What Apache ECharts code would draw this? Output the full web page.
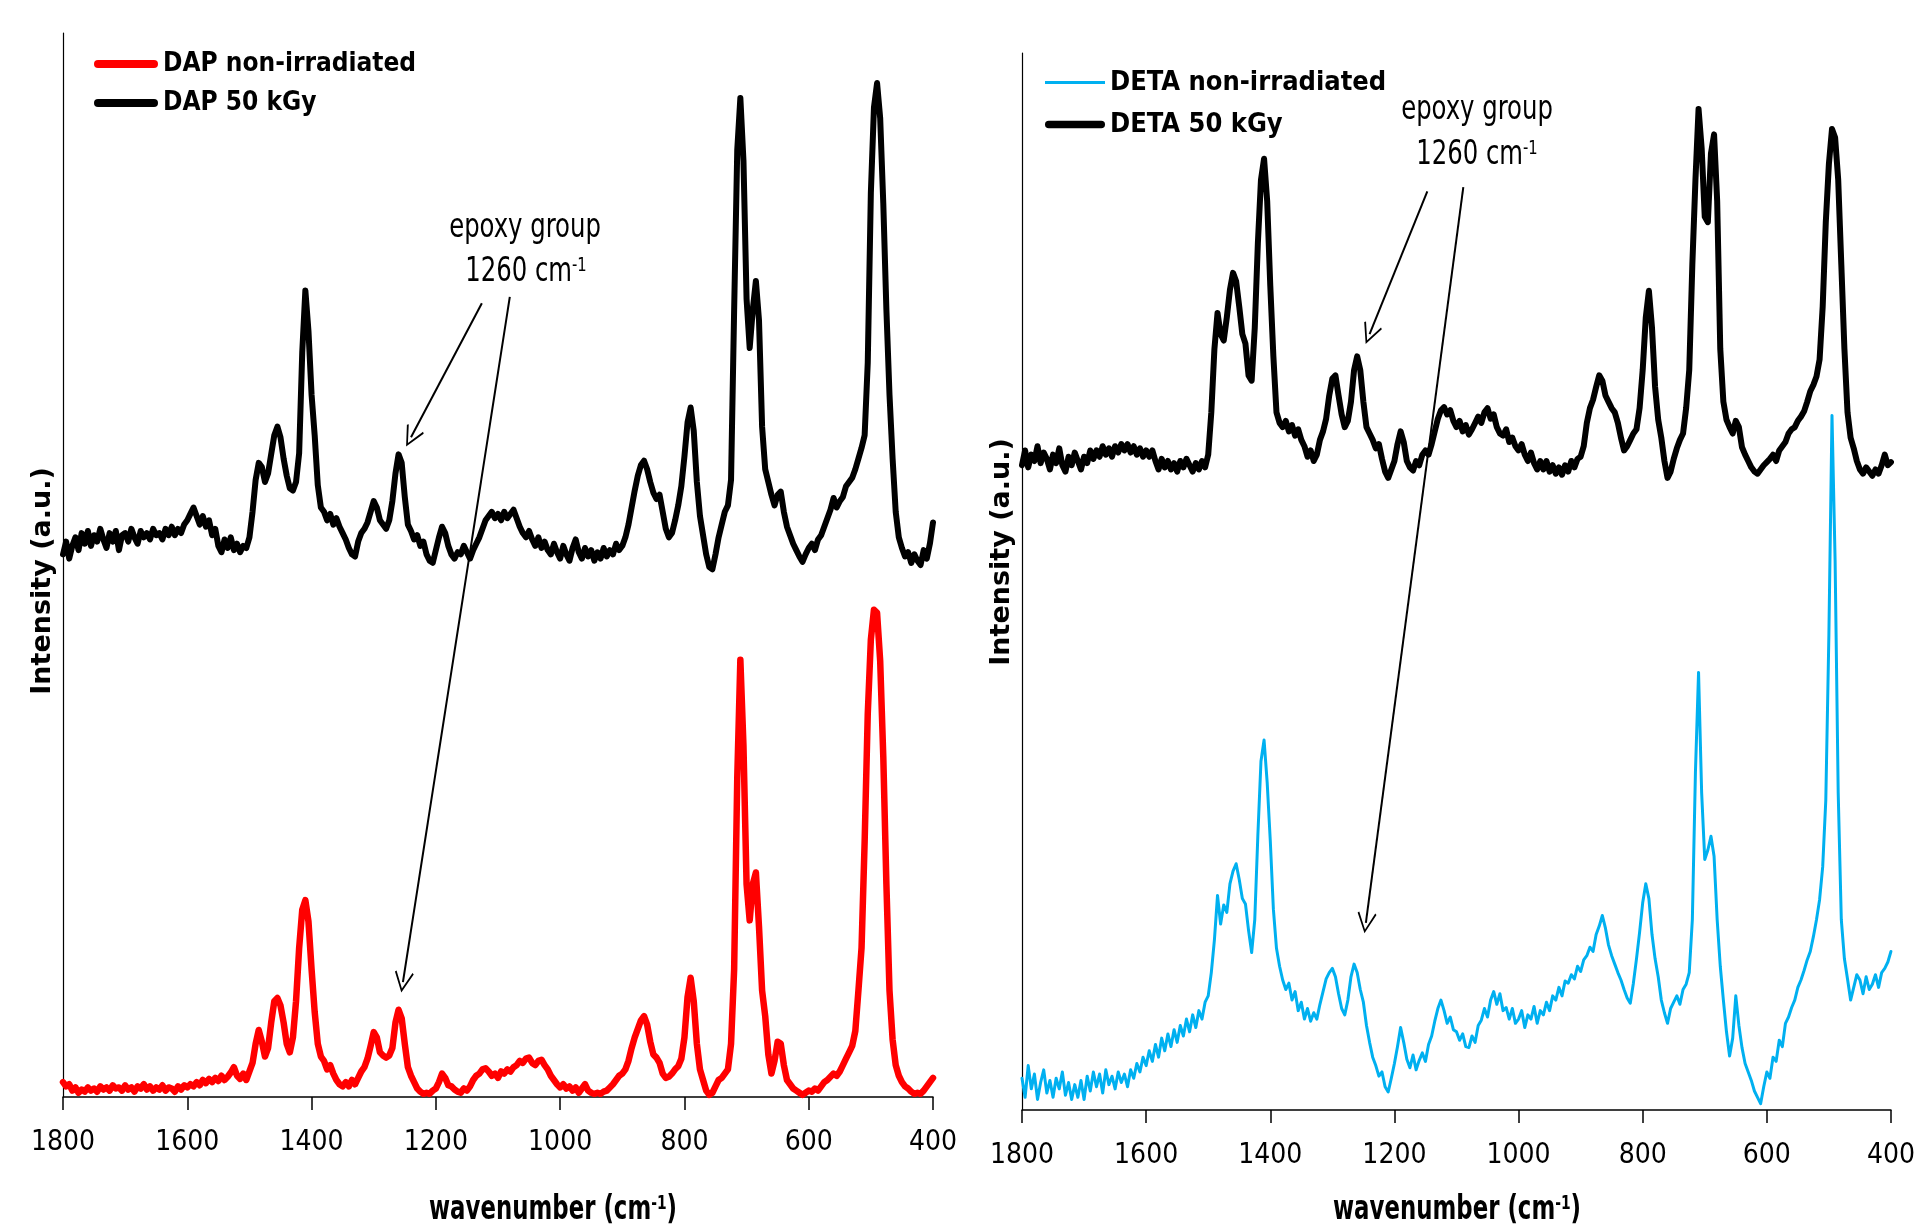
<!DOCTYPE html>
<html>
<head>
<meta charset="utf-8">
<script src="https://cdn.jsdelivr.net/npm/echarts@6/dist/echarts.min.js"></script>
<style>
html,body{margin:0;padding:0;background:#fff;}
#chart{width:1918px;height:1227px;}
</style>
</head>
<body>
<div id="chart"></div>
<script>
// ---- data ----
const wavenumbers = [
1800,1795,1790,1785,1780,1775,1770,1765,1760,1755,1750,1745,1740,1735,1730,1725,1720,1715,1710,1705,
1700,1695,1690,1685,1680,1675,1670,1665,1660,1655,1650,1645,1640,1635,1630,1625,1620,1615,1610,1605,
1600,1595,1590,1585,1580,1575,1570,1565,1560,1555,1550,1545,1540,1535,1530,1525,1520,1515,1510,1505,
1500,1495,1490,1485,1480,1475,1470,1465,1460,1455,1450,1445,1440,1435,1430,1425,1420,1415,1410,1405,
1400,1395,1390,1385,1380,1375,1370,1365,1360,1355,1350,1345,1340,1335,1330,1325,1320,1315,1310,1305,
1300,1295,1290,1285,1280,1275,1270,1265,1260,1255,1250,1245,1240,1235,1230,1225,1220,1215,1210,1205,
1200,1195,1190,1185,1180,1175,1170,1165,1160,1155,1150,1145,1140,1135,1130,1125,1120,1115,1110,1105,
1100,1095,1090,1085,1080,1075,1070,1065,1060,1055,1050,1045,1040,1035,1030,1025,1020,1015,1010,1005,
1000,995,990,985,980,975,970,965,960,955,950,945,940,935,930,925,920,915,910,905,
900,895,890,885,880,875,870,865,860,855,850,845,840,835,830,825,820,815,810,805,
800,795,790,785,780,775,770,765,760,755,750,745,740,735,730,725,720,715,710,705,
700,695,690,685,680,675,670,665,660,655,650,645,640,635,630,625,620,615,610,605,
600,595,590,585,580,575,570,565,560,555,550,545,540,535,530,525,520,515,510,505,
500,495,490,485,480,475,470,465,460,455,450,445,440,435,430,425,420,415,410,405,
400];

const dapNonIrradiated = [
1.4,1.0,1.2,0.6,0.9,0.4,0.7,0.5,0.9,0.6,0.8,0.5,1.0,0.7,0.9,0.6,1.1,0.8,0.9,0.6,
1.1,0.7,0.9,0.5,1.0,0.8,1.2,0.7,1.0,0.6,0.9,0.7,1.1,0.6,0.9,0.8,0.5,1.0,0.7,1.1,
0.9,1.2,1.0,1.4,1.1,1.6,1.3,1.7,1.4,1.8,1.5,2.0,1.6,1.9,2.3,2.8,2.0,1.7,2.2,1.6,
2.4,3.2,5.0,6.3,5.2,3.8,4.6,7.0,9.0,9.3,8.6,7.0,5.0,4.2,5.6,9.0,14.0,17.6,18.5,16.5,
12.0,8.0,5.0,3.8,3.4,2.6,3.0,2.2,1.6,1.2,1.0,1.4,1.0,1.6,1.2,1.8,2.4,2.8,3.6,4.8,
6.1,5.6,4.2,3.9,3.7,3.9,4.6,7.0,8.2,7.4,5.0,2.8,2.0,1.4,0.8,0.5,0.3,0.4,0.3,0.6,
0.8,1.4,2.2,1.8,1.1,1.0,0.7,0.5,0.4,0.8,0.6,1.0,1.6,2.0,2.2,2.6,2.7,2.4,2.0,2.2,
1.8,2.4,2.2,2.6,2.4,2.8,3.0,3.4,3.2,3.6,3.7,3.2,3.0,3.4,3.5,3.0,2.6,2.0,1.6,1.2,
0.9,1.2,0.8,1.0,0.6,0.9,0.4,0.8,1.2,0.6,0.4,0.3,0.4,0.3,0.5,0.6,0.9,1.2,1.6,2.0,
2.2,2.6,3.4,4.6,5.6,6.4,7.2,7.6,6.8,5.2,4.0,3.7,3.2,2.2,1.8,1.9,2.2,2.6,2.9,3.6,
5.6,9.4,11.2,9.0,5.0,2.6,1.6,0.6,0.2,0.4,1.0,1.6,1.8,2.2,2.6,5.0,12.0,30.0,41.1,33.0,
20.0,16.6,20.0,21.1,16.0,10.0,7.6,4.0,2.2,3.4,5.2,5.0,3.0,1.6,1.2,0.8,0.6,0.4,0.2,0.4,
0.6,0.5,0.8,0.6,1.0,1.4,1.6,1.9,2.2,2.0,2.4,3.0,3.6,4.2,4.8,6.2,10.0,14.0,24.0,36.0,
43.0,45.8,45.5,41.0,32.0,20.0,10.0,5.4,3.0,2.0,1.4,1.0,0.8,0.5,0.3,0.4,0.3,0.6,1.0,1.4,
1.8];

const dap50kGy = [
51.0,52.2,50.6,51.8,52.6,51.4,53.0,52.0,53.2,51.8,52.8,52.2,53.4,52.4,51.6,53.0,52.2,53.2,51.4,52.8,
53.0,52.2,53.4,52.6,52.0,53.2,52.6,53.0,52.4,53.4,52.8,53.0,52.4,53.4,52.8,53.6,52.8,53.4,53.0,53.8,
54.2,54.8,55.4,54.6,53.8,54.6,53.6,54.2,52.8,53.4,51.8,51.2,52.4,51.6,52.6,51.4,52.0,51.2,51.8,51.6,
52.6,55.0,58.0,59.6,59.2,57.8,58.6,60.4,62.2,63.0,62.0,60.0,58.4,57.2,57.0,57.8,60.5,70.0,75.8,72.0,
66.0,62.2,57.5,55.4,55.0,54.2,54.8,53.8,54.4,53.6,53.0,52.4,51.6,51.0,50.8,52.2,53.0,53.4,54.0,55.0,
56.0,55.4,54.2,53.8,53.4,54.2,56.0,58.6,60.4,59.6,56.4,53.8,53.2,52.4,52.8,51.8,52.2,51.0,50.4,50.2,
51.4,52.6,53.6,53.0,51.8,51.0,50.6,51.2,51.0,51.8,51.2,50.6,51.4,52.0,52.6,53.4,54.2,54.6,55.0,54.4,
54.8,54.2,55.0,54.4,54.8,55.2,54.4,53.6,53.0,52.6,53.2,52.4,51.8,52.6,51.6,52.2,51.4,51.0,52.0,51.2,
50.6,51.8,51.0,50.4,51.6,52.4,51.2,50.6,51.6,50.8,51.4,50.4,51.2,50.6,51.6,50.8,51.4,51.0,52.0,51.4,
51.8,52.6,53.8,55.4,57.0,58.4,59.4,59.8,59.0,57.8,56.8,56.2,56.6,55.0,53.4,52.6,53.0,54.2,55.6,57.4,
60.2,63.4,64.8,62.6,57.8,54.6,52.8,51.0,49.8,49.6,51.0,52.6,53.8,55.0,55.6,58.0,74.0,89.0,93.9,88.0,
75.0,70.4,74.0,76.7,73.0,63.0,59.0,57.8,56.6,55.6,56.6,56.9,55.0,53.6,52.8,52.0,51.4,50.8,50.3,51.0,
51.6,52.0,51.4,52.4,52.8,53.6,54.4,55.2,56.3,55.4,56.0,56.4,57.4,57.8,58.2,59.0,60.0,61.0,62.2,69.0,
85.0,93.0,95.3,92.0,84.0,74.0,66.0,60.0,55.0,52.6,51.6,50.8,51.2,50.2,51.0,50.4,50.0,51.4,50.6,52.0,
54.0];

const detaNonIrradiated = [
3.0,1.2,4.2,2.0,3.4,1.0,2.6,3.8,1.6,2.8,1.2,3.0,2.0,3.6,1.4,2.6,1.0,2.4,1.2,2.8,
1.0,3.2,1.8,3.6,2.2,3.4,1.6,3.8,2.4,3.2,2.0,3.6,2.6,3.4,2.2,3.8,3.0,4.4,3.6,5.0,
4.2,5.6,4.6,6.2,5.0,6.8,5.6,7.2,6.0,7.6,6.4,8.0,7.0,8.6,7.4,9.0,7.8,9.4,8.6,10.2,
10.8,13.0,16.1,20.3,17.6,19.4,18.7,21.4,22.6,23.3,21.8,20.0,19.5,17.0,14.9,18.0,26.0,33.0,35.0,31.0,
25.5,19.0,15.3,13.6,12.3,11.4,12.0,10.4,11.2,9.4,10.2,8.6,9.6,8.4,9.2,8.6,10.0,11.2,12.4,13.0,
13.4,12.6,11.0,9.6,9.0,10.4,12.6,13.8,13.0,11.4,10.2,8.0,6.4,5.0,4.2,3.2,3.6,2.2,1.7,3.0,
4.4,6.0,7.8,6.4,4.8,4.0,5.2,3.8,4.7,5.4,4.6,6.2,7.0,8.4,9.6,10.4,9.4,8.2,8.8,7.6,
7.4,6.6,7.2,6.0,5.9,7.0,6.4,8.0,8.5,9.6,8.8,10.4,11.2,10.0,11.0,9.4,9.7,8.6,9.6,8.2,
8.6,9.4,7.8,9.0,8.6,9.8,8.2,9.4,9.0,10.2,9.4,10.8,10.4,11.6,10.8,12.2,12.0,12.8,12.4,13.6,
13.1,14.2,14.6,15.4,15.0,16.6,17.4,18.4,17.2,15.6,14.6,13.8,13.0,12.3,11.4,10.6,10.1,12.0,14.3,16.8,
19.6,21.4,20.0,16.6,14.3,12.6,10.4,9.2,8.2,9.6,10.2,10.8,10.0,11.4,11.9,13.0,18.0,32.0,41.4,30.0,
23.7,24.6,25.9,24.0,18.0,13.6,10.4,7.4,5.1,6.8,10.8,8.0,5.9,4.4,3.6,2.8,1.8,1.2,0.6,2.2,
3.6,3.0,5.0,4.6,6.6,6.0,8.2,8.8,9.7,10.4,11.6,12.3,13.2,14.2,15.0,16.4,18.0,19.9,23.0,29.3,
45.0,65.7,52.0,30.0,18.0,14.3,12.4,10.4,11.6,12.8,12.3,11.0,12.6,11.4,11.9,12.8,11.6,13.0,13.4,14.0,
15.0];

const deta50kGy = [
61.0,62.4,60.8,62.0,61.4,62.8,61.2,62.2,61.6,60.6,62.0,61.2,62.6,61.0,60.4,61.8,61.0,62.2,61.4,60.6,
61.8,61.2,62.4,61.6,62.4,61.8,62.8,62.0,62.6,61.8,62.8,62.2,63.0,62.4,63.0,62.2,62.8,62.0,62.6,61.8,
62.4,61.8,62.4,61.4,60.6,61.6,60.8,61.4,60.6,61.2,60.4,61.4,60.8,61.6,61.0,60.4,61.2,60.6,61.4,60.8,
62.0,66.0,72.0,75.4,73.4,72.8,75.0,77.6,79.2,78.4,76.0,73.4,72.5,69.5,69.0,74.0,82.0,88.0,90.0,86.0,
78.0,71.3,66.0,65.0,64.6,65.2,64.2,64.8,63.8,64.4,63.4,62.8,61.8,62.4,61.4,62.0,63.4,64.2,65.4,67.6,
69.2,69.5,67.6,65.8,64.6,65.2,67.0,70.0,71.3,70.0,67.0,64.6,64.0,63.4,62.6,63.0,61.6,60.4,59.8,60.6,
61.4,63.0,64.2,63.2,61.4,60.8,60.5,61.4,61.0,62.0,62.4,62.0,63.0,64.2,65.4,66.2,66.5,65.8,66.2,65.2,
64.6,65.2,64.2,64.8,63.9,64.4,65.0,65.6,65.0,66.0,66.4,65.4,65.8,64.6,64.0,63.8,64.4,63.2,63.6,62.8,
62.4,63.0,62.0,61.4,62.2,61.2,60.6,61.4,60.6,61.4,60.4,61.0,60.2,60.8,60.1,61.0,60.4,61.4,60.8,61.6,
61.8,62.8,65.0,66.4,67.2,68.4,69.5,69.0,67.6,67.0,66.4,66.0,65.0,63.6,62.4,62.8,63.4,64.0,64.4,66.4,
70.0,75.0,77.5,74.0,68.4,65.3,63.6,61.4,59.8,60.4,61.6,62.6,63.4,64.0,66.4,70.0,80.0,88.0,94.7,91.0,
84.5,84.0,90.5,92.3,86.0,72.0,67.0,65.3,64.6,64.0,65.2,64.6,62.7,62.0,61.4,60.8,60.4,60.2,60.6,61.0,
61.3,61.6,62.0,61.4,62.4,62.8,63.2,64.0,64.4,64.6,65.2,65.6,66.1,67.0,68.0,68.6,69.4,71.0,76.0,84.0,
89.5,92.8,92.0,88.0,80.0,72.0,66.0,63.6,62.6,61.4,60.6,60.2,60.8,60.4,60.0,60.6,60.2,61.0,62.0,61.0,
61.3];

const xTicks = [1800, 1600, 1400, 1200, 1000, 800, 600, 400];
const namesLeft = ['DAP non-irradiated', 'DAP 50 kGy'];
const namesRight = ['DETA non-irradiated', 'DETA 50 kGy'];
// annotation arrows: [start wavenumber, start intensity, end wavenumber, end intensity]
const arrowsLeft = [[1126, 74.6, 1240, 62.0], [1081, 75.2, 1253, 10.8]];
const arrowsRight = [[1147, 86.9, 1240, 73.4], [1089, 87.3, 1246, 17.7]];

// ---- chart ----
const NARROW = "'Liberation Sans Narrow','Arial Narrow','DejaVu Sans Condensed',sans-serif";
const WIDE = "'DejaVu Sans',Verdana,sans-serif";
const pairs = vals => wavenumbers.map((w, i) => [w, vals[i]]);
const ARROW = 'path://M10,0 L20,15 L18.5,16 L10,3 L1.5,16 L0,15 Z';
const ICON_THICK = 'path://M4,0 L60,0 A4,4 0 0 1 60,8 L4,8 A4,4 0 0 1 4,0 Z';
const ICON_THIN = 'path://M0,0 L64,0 L64,3 L0,3 Z';

function xAxisFor(gi) {
  return {
    type: 'value', gridIndex: gi, inverse: true,
    min: Math.min(...xTicks), max: Math.max(...xTicks), interval: 200,
    axisLine: { show: true, onZero: false, lineStyle: { color: '#000', width: 1.5 } },
    axisTick: { show: true, inside: false, length: 13, lineStyle: { color: '#000', width: 1.5 } },
    axisLabel: { show: true, color: '#000', fontSize: 28, fontFamily: NARROW, margin: 32,
                 showMinLabel: true, showMaxLabel: true, formatter: v => String(v) },
    splitLine: { show: false }
  };
}
function yAxisFor(gi) {
  return {
    type: 'value', gridIndex: gi, min: 0, max: 100,
    axisLine: { show: true, onZero: false, lineStyle: { color: '#000', width: 1.2 } },
    axisTick: { show: false }, axisLabel: { show: false }, splitLine: { show: false }
  };
}
function arrowMarks(list) {
  return {
    silent: true, animation: false,
    symbol: ['none', ARROW], symbolSize: [19, 21],
    label: { show: false },
    emphasis: { disabled: true },
    lineStyle: { color: '#000', width: 2, type: 'solid' },
    data: list.map(a => [{ coord: [a[0], a[1]] }, { coord: [a[2], a[3]] }])
  };
}
function lineSeries(name, vals, gi, color, width, extra) {
  return Object.assign({
    name, type: 'line', xAxisIndex: gi, yAxisIndex: gi,
    data: pairs(vals), showSymbol: false, symbol: 'none', sampling: null,
    lineStyle: { color, width, join: 'round', cap: 'round' },
    itemStyle: { color },
    emphasis: { disabled: true }, animation: false, z: 3
  }, extra || {});
}
function textEl(x, y, parts, opts) {
  return Object.assign({
    type: 'text', x, y, silent: true, z: 10,
    style: Object.assign({ fill: '#000', align: 'center', verticalAlign: 'middle' }, parts)
  }, opts || {});
}
const supRich = (size, weight) => ({
  a: { fontSize: size, fontFamily: NARROW, fontWeight: weight, fill: '#000' },
  s: { fontSize: Math.round(size * 0.6), fontFamily: NARROW, fontWeight: weight, fill: '#000', verticalAlign: 'top' }
});

const chart = echarts.init(document.getElementById('chart'), null, { renderer: 'canvas' });
chart.setOption({
  animation: false,
  backgroundColor: '#fff',
  grid: [
    { left: 63, top: 33, width: 870, height: 1064 },
    { left: 1022, top: 53, width: 872, height: 1057 }
  ],
  xAxis: [xAxisFor(0), xAxisFor(1)],
  yAxis: [yAxisFor(0), yAxisFor(1)],
  legend: [
    { orient: 'vertical', left: 89, top: 46, itemWidth: 64, itemHeight: 16, itemGap: 13,
      symbolKeepAspect: true, selectedMode: false,
      textStyle: { color: '#000', fontSize: 26, fontWeight: 'bold', fontFamily: NARROW },
      data: [
        { name: namesLeft[0], icon: ICON_THICK },
        { name: namesLeft[1], icon: ICON_THICK }
      ] },
    { orient: 'vertical', left: 1040, top: 64, itemWidth: 60, itemHeight: 16, itemGap: 15,
      symbolKeepAspect: true, selectedMode: false,
      textStyle: { color: '#000', fontSize: 27, fontWeight: 'bold', fontFamily: NARROW },
      data: [
        { name: namesRight[0], icon: ICON_THIN },
        { name: namesRight[1], icon: ICON_THICK }
      ] }
  ],
  series: [
    lineSeries(namesLeft[0], dapNonIrradiated, 0, '#FF0000', 6.5),
    lineSeries(namesLeft[1], dap50kGy, 0, '#000000', 6, { markLine: arrowMarks(arrowsLeft) }),
    lineSeries(namesRight[0], detaNonIrradiated, 1, '#00B0F0', 3),
    lineSeries(namesRight[1], deta50kGy, 1, '#000000', 6, { markLine: arrowMarks(arrowsRight) })
  ],
  graphic: [
    textEl(43, 581, { text: 'Intensity (a.u.)', font: 'bold 27px ' + WIDE }, { rotation: Math.PI / 2 }),
    textEl(1002, 552, { text: 'Intensity (a.u.)', font: 'bold 27px ' + WIDE }, { rotation: Math.PI / 2 }),
    textEl(553, 1210, { text: '{a|wavenumber (cm}{s|-1}{a|)}', rich: supRich(33, 'bold') }, { scaleX: 0.77 }),
    textEl(1457, 1210, { text: '{a|wavenumber (cm}{s|-1}{a|)}', rich: supRich(33, 'bold') }, { scaleX: 0.77 }),
    textEl(525, 228, { text: 'epoxy group', font: '33px ' + NARROW }, { scaleX: 0.82 }),
    textEl(526, 272, { text: '{a|1260 cm}{s|-1}', rich: supRich(33, 'normal') }, { scaleX: 0.82 }),
    textEl(1477, 110, { text: 'epoxy group', font: '33px ' + NARROW }, { scaleX: 0.82 }),
    textEl(1477, 155, { text: '{a|1260 cm}{s|-1}', rich: supRich(33, 'normal') }, { scaleX: 0.82 })
  ]
});
</script>
</body>
</html>
